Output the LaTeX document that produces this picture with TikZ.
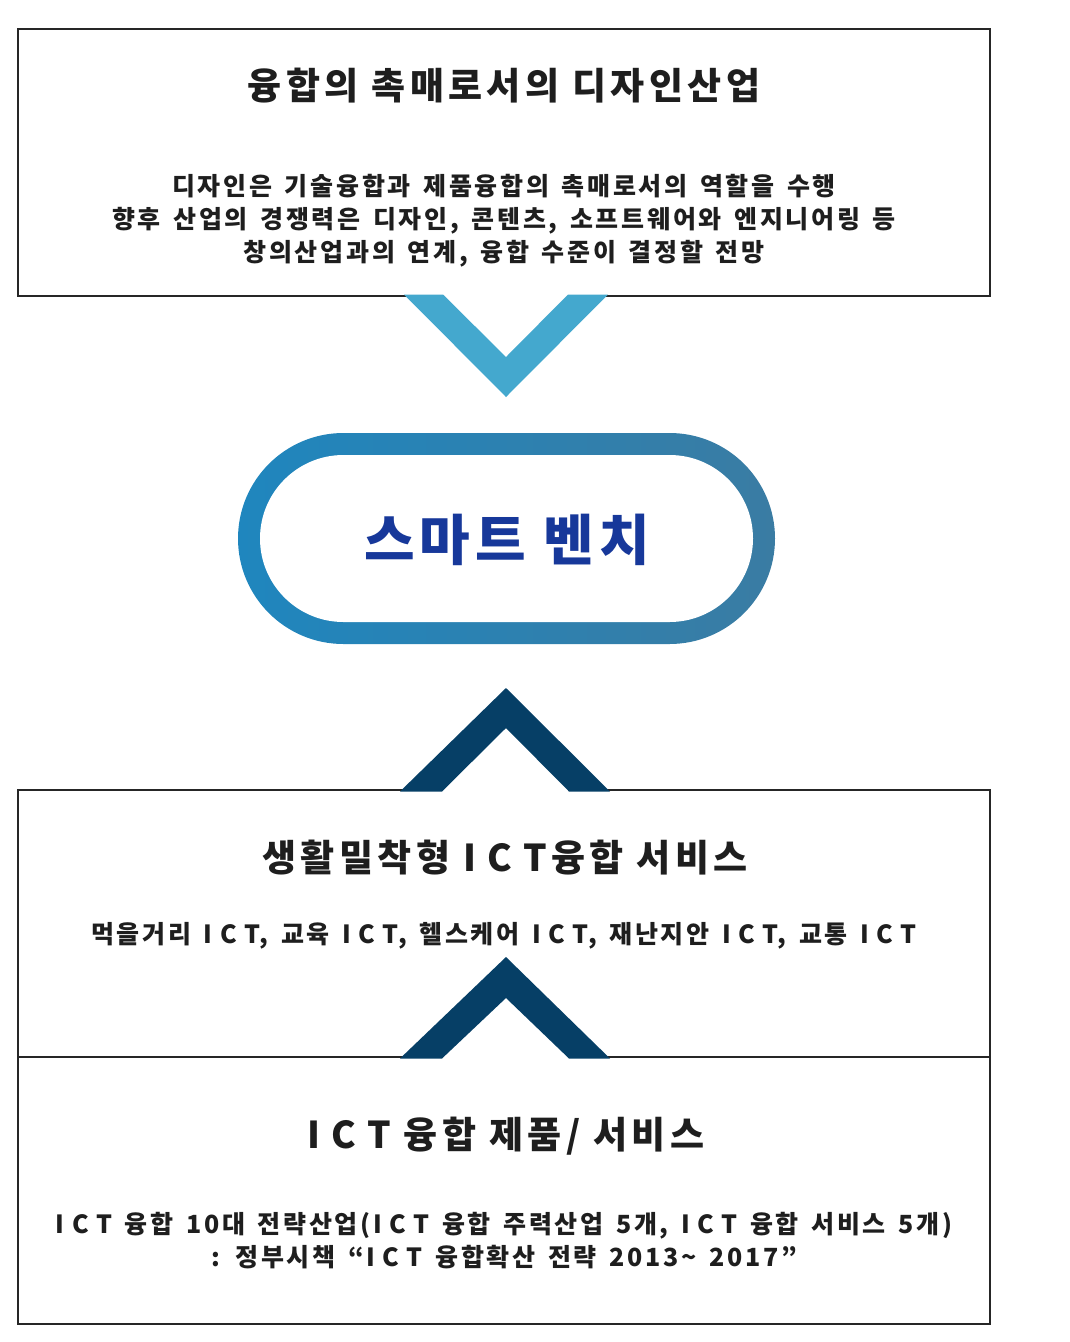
\documentclass[tikz,border=0pt]{standalone}
\usepackage{fontspec}
\setmainfont{Noto Sans CJK KR}
\definecolor{chevlight}{HTML}{44A8CE}
\definecolor{chevdark}{HTML}{063F66}
\definecolor{pillL}{HTML}{1F86BE}
\definecolor{pillM}{HTML}{1B2A6E}
\definecolor{pillR}{HTML}{3A7CA3}
\definecolor{benchtxt}{HTML}{17389A}
\definecolor{txt}{HTML}{1E1E1E}
\newcommand\ICT{I\hspace{.3em}C\hspace{.3em}T}
\newcommand\widesp{\spaceskip=0.5em\relax}
\begin{document}
\begin{tikzpicture}[x=1pt,y=-1pt,
  box/.style={draw=black!85, line width=1.4pt, fill=white},
  ttl/.style={font=\bfseries\fontsize{37}{44}\selectfont\addfontfeatures{LetterSpace=12}, text=txt, text height=0.8em, text depth=0.1em},
  bodytxt/.style={font=\bfseries\fontsize{25}{33}\selectfont\addfontfeatures{LetterSpace=11}\widesp, text=txt, align=center},
  ]
\useasboundingbox[fill=white] (0,0) rectangle (1070,1342);
% boxes
\draw[box] (18,29) rectangle (990,296);
\draw[box] (18,790) rectangle (990,1057);
\draw[box] (18,1057) rectangle (990,1324);
\draw[black!85, line width=2.2pt] (990,1057) -- (990,1324);

% top box text
\node[ttl] (t1) at (504,96) {융합의 촉매로서의 디자인산업};
\node[bodytxt] (b1) at (504,221) {디자인은 기술융합과 제품융합의 촉매로서의 역할을 수행\\향후 산업의 경쟁력은 디자인, 콘텐츠, 소프트웨어와 엔지니어링 등\\창의산업과의 연계, 융합 수준이 결정할 전망};

% top chevron (down)
\fill[white] (443,293) rectangle (568,299);
\fill[chevlight] (404,294.5) -- (443,294.5) -- (506,357) -- (568,294.5) -- (608,294.5) -- (506,397) -- cycle;

% pill
\shade[left color=pillL, middle color=pillM, right color=pillR]
  (238,433) [rounded corners=105.5pt] rectangle (775,644);
\fill[white, rounded corners=83.5pt] (260,455) rectangle (753,622);
\node[font=\bfseries\fontsize{55}{60}\selectfont\addfontfeatures{LetterSpace=9}, text=benchtxt, text height=0.8em, text depth=0.1em] (bench) at (507,557) {스마트 벤치};

% upper up chevron
\fill[white] (442,787) rectangle (569,793);
\fill[chevdark] (400,791.5) -- (442,791.5) -- (506,728) -- (569,791.5) -- (610,791.5) -- (506,688) -- cycle;

% middle box text
\node[ttl] (t2) at (505,868) {생활밀착형 \ICT{}융합 서비스};
\node[bodytxt] (b2) at (504,936) {먹을거리 \ICT, 교육 \ICT, 헬스케어 \ICT, 재난지안 \ICT, 교통 \ICT};

% lower up chevron
\fill[white] (442,1054) rectangle (569,1060);
\fill[chevdark] (400,1058.5) -- (442,1058.5) -- (506,998) -- (569,1058.5) -- (610,1058.5) -- (506,957) -- cycle;

% bottom box text
\node[ttl] (t3) at (506,1145) {\ICT{} 융합 제품/ 서비스};
\node[bodytxt] (b3) at (504,1241) {\ICT{} 융합 10대 전략산업(\ICT{} 융합 주력산업 5개, \ICT{} 융합 서비스 5개)\\: 정부시책 “\ICT{} 융합확산 전략 2013\char"7E{} 2017”};
\end{tikzpicture}
\end{document}
